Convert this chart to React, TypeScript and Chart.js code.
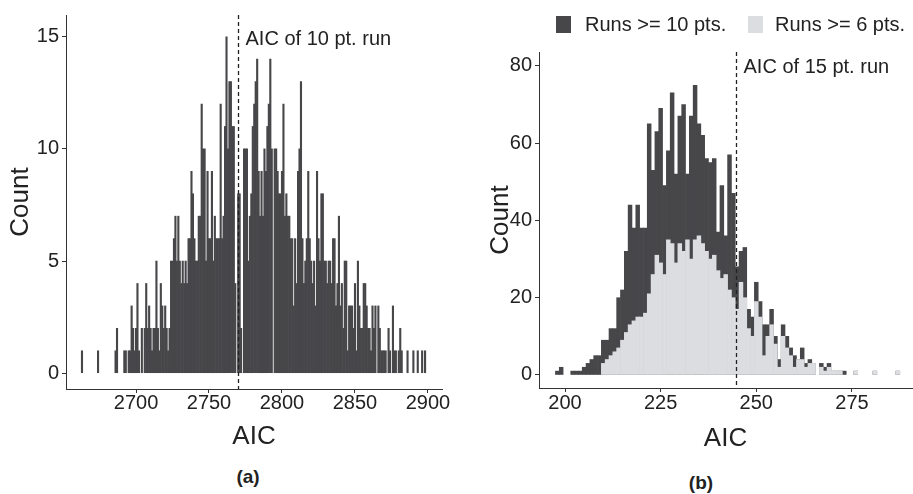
import React, { useEffect, useRef } from "react";
import { Chart, registerables } from "chart.js";

Chart.register(...registerables);

const FONT = '"Liberation Sans", Arial, Helvetica, sans-serif';
const DARK = "#47474a";
const LIGHT = "#dcdde0";
const INK = "#222222";
const AXIS = "#333333";

// ---------- Panel (a): AIC histogram, bin width 1 ----------
const leftStartAic = 2663;
const leftCounts = [
  1, 0, 0, 0, 0, 0, 0, 0, 0, 0,
  0, 1, 0, 0, 0, 0, 0, 0, 0, 0,
  0, 0, 0, 1, 2, 0, 0, 0, 0, 1,
  1, 0, 1, 1, 3, 2, 1, 2, 4, 1,
  0, 2, 0, 2, 4, 2, 3, 2, 1, 2,
  2, 5, 2, 1, 4, 3, 2, 3, 2, 1,
  2, 5, 5, 6, 7, 5, 7, 5, 4, 5,
  4, 5, 4, 6, 6, 9, 8, 6, 5, 5,
  7, 7, 12, 10, 10, 5, 9, 6, 6, 9,
  5, 7, 6, 6, 6, 12, 6, 7, 11, 15,
  10, 13, 13, 11, 11, 4, 0, 8, 8, 2,
  0, 10, 10, 10, 5, 7, 8, 11, 12, 13,
  14, 9, 7, 9, 7, 10, 9, 11, 12, 14,
  10, 0, 10, 10, 9, 8, 8, 9, 12, 7,
  8, 7, 7, 6, 6, 3, 6, 4, 9, 10,
  13, 6, 4, 5, 6, 9, 6, 5, 4, 5,
  3, 9, 6, 5, 8, 8, 5, 5, 4, 5,
  5, 4, 6, 6, 3, 4, 7, 3, 4, 2,
  5, 5, 1, 3, 3, 3, 2, 4, 1, 5,
  3, 2, 2, 4, 4, 3, 2, 2, 1, 3,
  2, 3, 0, 3, 2, 1, 1, 1, 1, 0,
  2, 1, 0, 3, 1, 1, 0, 1, 2, 1,
  0, 0, 0, 1, 0, 0, 0, 1, 0, 0,
  1, 0, 0, 1, 0, 1,
];
const leftXTicks = [2700, 2750, 2800, 2850, 2900];
const leftYTicks = [0, 5, 10, 15];
const leftXRange = [2652.05, 2909.6];
const leftYRange = [-0.704, 15.968];
const leftRefAic = 2770;
const leftRefLabel = "AIC of 10 pt. run";

// ---------- Panel (b): two overlaid histograms, bin width 1 ----------
const rightStartAic = 198;
const runs10Counts = [
  1, 2, 0, 0, 1, 1, 1, 2, 3, 4,
  5, 5, 9, 9, 12, 12, 20, 22, 32, 44,
  38, 44, 38, 38, 65, 53, 63, 69, 49, 58,
  73, 52, 67, 70, 52, 67, 75, 65, 62, 56,
  55, 56, 37, 49, 36, 57, 47, 28, 32, 33,
  17, 15, 24, 19, 13, 13, 17, 10, 4, 13,
  10, 7, 5, 4, 7, 3, 4, 3, 0, 3,
  2, 3, 1, 1, 1, 1, 0, 0, 1, 0,
  0, 0, 0, 1, 0, 0, 0, 0, 0, 1,
];
const runs6Counts = [
  0, 0, 0, 0, 0, 0, 0, 0, 0, 0,
  0, 0, 3, 4, 5, 6, 7, 9, 11, 13,
  14, 15, 15, 16, 21, 26, 31, 29, 26, 35,
  34, 29, 34, 32, 35, 30, 35, 36, 34, 32,
  30, 31, 27, 25, 26, 22, 20, 17, 24, 20,
  12, 10, 19, 15, 5, 10, 13, 8, 2, 10,
  7, 5, 2, 4, 4, 2, 3, 3, 0, 2,
  1, 2, 1, 1, 1, 0, 0, 0, 1, 0,
  0, 0, 0, 1, 0, 0, 0, 0, 0, 1,
];
const rightXTicks = [200, 225, 250, 275];
const rightYTicks = [0, 20, 40, 60, 80];
const rightXRange = [193.2, 290.7];
const rightYRange = [-3.37, 83.6];
const rightRefAic = 244.8;
const rightRefLabel = "AIC of 15 pt. run";
const seriesLabels = ["Runs >= 10 pts.", "Runs >= 6 pts."];

// empty bins are not drawn (null), so they leave no sliver on the baseline
function toPoints(start: number, counts: number[]) {
  return counts.map((c, i) => ({ x: start + i, y: c === 0 ? null : c }));
}

function refLinePlugin(value: number, label: string, baselineOffset: number) {
  return {
    id: "refLine",
    afterDatasetsDraw(chart: any) {
      const { ctx, chartArea, scales } = chart;
      const x = Math.round(scales.x.getPixelForValue(value)) + 0.5;
      ctx.save();
      ctx.strokeStyle = INK;
      ctx.lineWidth = 1.3;
      ctx.setLineDash([4, 3]);
      ctx.beginPath();
      ctx.moveTo(x, chartArea.top);
      ctx.lineTo(x, chartArea.bottom);
      ctx.stroke();
      ctx.setLineDash([]);
      ctx.fillStyle = INK;
      ctx.font = `20px ${FONT}`;
      ctx.textBaseline = "alphabetic";
      ctx.textAlign = "left";
      ctx.fillText(label, x + 7, chartArea.top + baselineOffset);
      ctx.restore();
    },
  };
}

function axisCommon(
  ticks: number[],
  range: number[],
  fit: (s: any) => void,
  title: string,
  titlePadding: any,
  labelPadding: number
) {
  return {
    type: "linear" as const,
    min: range[0],
    max: range[1],
    offset: false,
    afterBuildTicks: (s: any) => {
      s.ticks = ticks.map((v) => ({ value: v }));
    },
    afterFit: fit,
    grid: {
      display: true,
      drawOnChartArea: false,
      drawTicks: true,
      tickLength: 4,
      color: AXIS,
      offset: false,
    },
    border: { display: true, color: AXIS, width: 1 },
    ticks: {
      color: INK,
      font: { family: FONT, size: 20 },
      padding: labelPadding,
      maxRotation: 0,
      autoSkip: false,
      callback: (v: any) => String(v),
    },
    title: {
      display: true,
      text: title,
      color: INK,
      font: { family: FONT, size: 26 },
      padding: titlePadding,
    },
  };
}

function useChart(ref: React.RefObject<HTMLCanvasElement>, build: () => any) {
  useEffect(() => {
    if (!ref.current) return;
    const chart = new Chart(ref.current, build());
    return () => chart.destroy();
  }, []);
}

export default function App() {
  const leftRef = useRef<HTMLCanvasElement>(null);
  const rightRef = useRef<HTMLCanvasElement>(null);

  useChart(leftRef, () => ({
    type: "bar",
    data: {
      datasets: [
        {
          label: "Count",
          data: toPoints(leftStartAic, leftCounts),
          backgroundColor: DARK,
          borderWidth: 0,
          barPercentage: 1,
          categoryPercentage: 1,
        },
      ],
    },
    options: {
      animation: false,
      responsive: false,
      maintainAspectRatio: false,
      devicePixelRatio: 1,
      layout: { padding: { left: 0, right: 18, top: 10, bottom: 0 } },
      plugins: { legend: { display: false }, tooltip: { enabled: false } },
      scales: {
        x: axisCommon(leftXTicks, leftXRange, (s) => { s.height = 71; }, "AIC", { top: 0, bottom: 8 }, -2),
        y: axisCommon(leftYTicks, leftYRange, (s) => { s.width = 66; }, "Count", { top: 5, bottom: 0 }, 3),
      },
    },
    plugins: [refLinePlugin(leftRefAic, leftRefLabel, 29.5)],
  }));

  useChart(rightRef, () => ({
    type: "bar",
    data: {
      datasets: [
        {
          label: seriesLabels[0],
          data: toPoints(rightStartAic, runs10Counts),
          backgroundColor: DARK,
          borderWidth: 0,
          barPercentage: 1,
          categoryPercentage: 1,
          grouped: false,
          order: 2,
        },
        {
          label: seriesLabels[1],
          data: toPoints(rightStartAic, runs6Counts),
          backgroundColor: LIGHT,
          borderWidth: 0,
          barPercentage: 1,
          categoryPercentage: 1,
          grouped: false,
          order: 1,
        },
      ],
    },
    options: {
      animation: false,
      responsive: false,
      maintainAspectRatio: false,
      devicePixelRatio: 1,
      layout: { padding: { left: 0, right: 1, top: 52, bottom: 0 } },
      plugins: { legend: { display: false }, tooltip: { enabled: false } },
      scales: {
        x: axisCommon(rightXTicks, rightXRange, (s) => { s.height = 72; }, "AIC", { top: 0, bottom: 6 }, -1),
        y: axisCommon(rightYTicks, rightYRange, (s) => { s.width = 69; }, "Count", { top: 15, bottom: 0 }, 3),
      },
    },
    plugins: [refLinePlugin(rightRefAic, rightRefLabel, 21)],
  }));

  const abs = (l: number, t: number, extra: any = {}) => ({
    position: "absolute" as const,
    left: l,
    top: t,
    ...extra,
  });
  const legendText = {
    fontFamily: FONT,
    fontSize: 20,
    color: INK,
    lineHeight: "20px",
    whiteSpace: "nowrap" as const,
  };

  return (
    <div style={{ position: "fixed", left: 0, top: 0, width: 913, height: 494, background: "#fff", overflow: "hidden" }}>
      <canvas ref={leftRef} width={460} height={460} style={abs(0, 0, { width: 460, height: 460 })} />
      <canvas ref={rightRef} width={443} height={460} style={abs(470, 0, { width: 443, height: 460 })} />
      <div style={abs(556, 16, { width: 15, height: 17, background: DARK })} />
      <div style={abs(585, 14, legendText)}>{seriesLabels[0]}</div>
      <div style={abs(748, 16, { width: 15, height: 17, background: LIGHT })} />
      <div style={abs(775, 14, legendText)}>{seriesLabels[1]}</div>
      <div style={abs(226, 466, { fontFamily: FONT, fontWeight: "bold", fontSize: 19, color: INK, width: 44, textAlign: "center" })}>(a)</div>
      <div style={abs(679, 472, { fontFamily: FONT, fontWeight: "bold", fontSize: 19, color: INK, width: 44, textAlign: "center" })}>(b)</div>
    </div>
  );
}
